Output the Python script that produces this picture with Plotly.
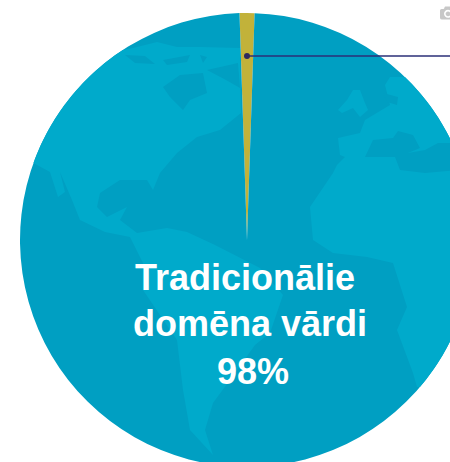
import numpy as np
import plotly.graph_objects as go

# Chart data
slice_labels = ["Citi", "Tradicionālie domēna vārdi"]
slice_values = [1.05, 98]
slice_colors = ["#C2B23A", "#009FC2"]
text_lines = ["Tradicionālie", "domēna vārdi", "98%"]

# Page and pie geometry, in pixels
W, H = 494, 480
CX, CY, R = 247, 240, 227
OCEAN, LAND = "#009FC2", "#00AACB"
NAVY = "#2B2F77"


def arc(y1, y2, side, n=40):
    ys = np.linspace(y1, y2, n)
    xs = CX + side * np.sqrt(np.maximum(R * R - (ys - CY) ** 2, 0))
    return list(zip(xs, ys))


def path(pts):
    return "M" + " L".join(f"{x / W:.5f},{1 - y / H:.5f}" for x, y in pts) + " Z"


americas = arc(163, 50, -1) + [
    (133, 48), (157, 42), (177, 47), (200, 47), (240, 48), (241, 113), (220, 130), (197, 137),
    (177, 153), (160, 173), (153, 190), (147, 180), (120, 180), (100, 193), (97, 207),
    (107, 217), (127, 207), (120, 220), (137, 233), (167, 228), (187, 232), (215, 245),
    (260, 268), (283, 295), (270, 333), (255, 345), (230, 380), (213, 403), (205, 430),
    (213, 455), (190, 430), (183, 390), (177, 340), (143, 290), (143, 263), (130, 237),
    (105, 232), (80, 220), (72, 200), (60, 172), (65, 192), (58, 197), (50, 172),
]
old_world = arc(77, 387, 1) + [
    (417, 387), (413, 373), (397, 330), (407, 307), (393, 263), (367, 257), (333, 253),
    (313, 240), (310, 207), (333, 173), (337, 165), (345, 157), (340, 155), (338, 138),
    (360, 133), (365, 120), (390, 105), (385, 85), (390, 77),
]
britain = [(338, 110), (347, 100), (353, 90), (360, 90), (365, 103), (368, 110), (360, 117),
           (353, 108), (342, 113)]
land_shapes = [americas, old_world, britain]
sea_shapes = [
    [(125, 55), (145, 56), (155, 64), (135, 63)],
    [(163, 60), (190, 55), (187, 62), (167, 65)],
    [(200, 55), (207, 57), (203, 63)],
    [(207, 70), (238, 63), (240, 88), (226, 80)],
    [(163, 87), (180, 75), (203, 73), (207, 93), (190, 100), (183, 110), (170, 97)],
    [(383, 93), (398, 97), (397, 105), (387, 102)],
    [(365, 157), (373, 140), (393, 138), (398, 131), (413, 135), (420, 148), (408, 153),
     (425, 150), (438, 143), (460, 143), (460, 170), (425, 173), (400, 170), (395, 157)],
]

shapes = []
for pts, col in [(p, LAND) for p in land_shapes] + [(p, OCEAN) for p in sea_shapes]:
    shapes.append(dict(type="path", xref="paper", yref="paper", path=path(pts),
                       fillcolor=col, line=dict(width=0), layer="above"))
shapes.append(dict(type="line", xref="paper", yref="paper", x0=247 / W, x1=450 / W,
                   y0=1 - 56 / H, y1=1 - 56 / H, line=dict(color=NAVY, width=1.5)))
shapes.append(dict(type="circle", xref="paper", yref="paper", x0=244 / W, x1=250 / W,
                   y0=1 - 59 / H, y1=1 - 53 / H, fillcolor="#2D2A5E", line=dict(width=0)))

annotations = [
    dict(text=t, x=x / W, y=1 - y / H, xref="paper", yref="paper", showarrow=False,
         xanchor="center", yanchor="middle",
         font=dict(family="Liberation Sans", size=36, color="white", weight="bold"))
    for t, x, y in zip(text_lines, [245, 250, 253], [277, 323, 371])
]

fig = go.Figure(go.Pie(
    labels=slice_labels, values=slice_values, sort=False, direction="clockwise",
    rotation=-1.9, textinfo="none", hoverinfo="label+percent",
    marker=dict(colors=slice_colors, line=dict(width=0)),
    domain=dict(x=[0, 1], y=[(CY - R) / H, (CY + R) / H]),
    showlegend=False,
))
fig.update_layout(width=W, height=H, margin=dict(l=0, r=0, t=0, b=0),
                  paper_bgcolor="white", shapes=shapes, annotations=annotations)
fig.write_html("out.html", post_script=(
    "document.body.style.margin='0';document.body.style.overflow='hidden';"
    "document.documentElement.style.overflow='hidden';"))
